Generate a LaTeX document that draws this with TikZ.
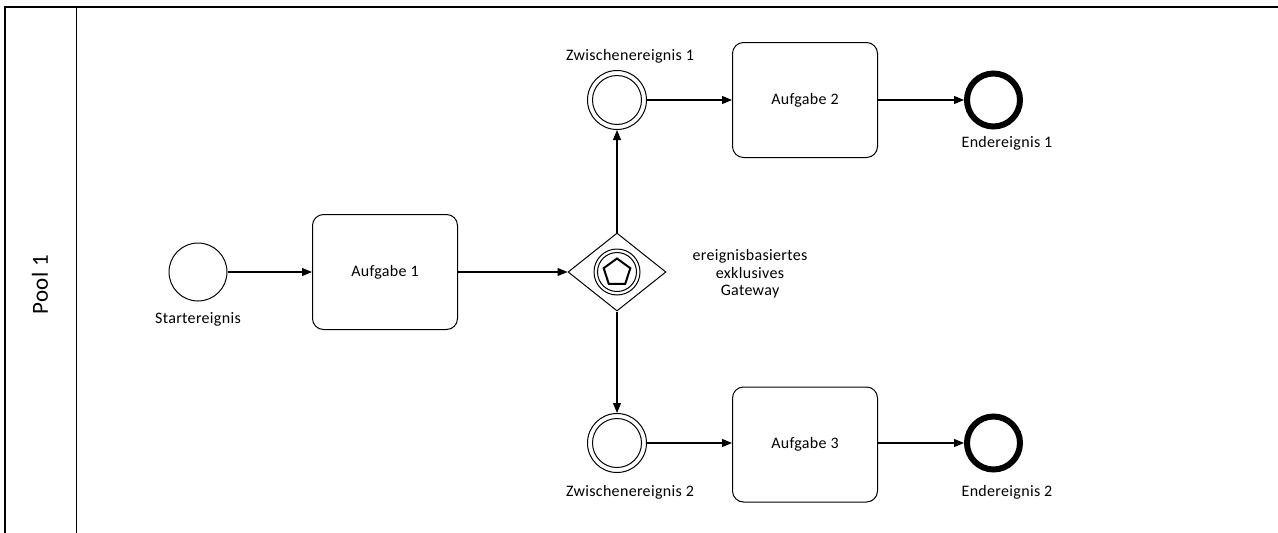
\documentclass[tikz,border=0pt]{standalone}
\usepackage{fontspec}
\setmainfont{Carlito}[LetterSpace=2]
\usetikzlibrary{shapes.geometric,arrows.meta}
\begin{document}
\begin{tikzpicture}[x=1pt,y=-1pt,
  every node/.style={font=\fontsize{16}{17.5}\selectfont},
  flow/.style={line width=1.1pt,-{Triangle[length=10pt,width=8pt]}},
  startev/.style={circle,draw,line width=1pt,minimum size=58pt,inner sep=0pt},
  midev/.style={circle,draw,line width=1pt,minimum size=59pt,inner sep=0pt},
  endev/.style={circle,draw,line width=6pt,minimum size=53pt,inner sep=0pt},
  task/.style={rectangle,draw,rounded corners=11pt,line width=1pt,minimum width=145pt,minimum height=115pt,inner sep=0pt},
  gate/.style={diamond,draw,line width=1pt,minimum width=98pt,minimum height=78pt,inner sep=0pt},
  caption/.style={inner sep=0pt,align=center}]
\useasboundingbox (0,0) rectangle (1278,533);
% pool with its header strip
\draw[line width=1.3pt] (5,533) -- (5,7) -- (1278,7);
\draw[line width=1pt] (76,7) -- (76,533);
\node[rotate=90,font=\fontsize{23}{26}\selectfont] (pool) at (40,285) {Pool 1};

% events and tasks
\node[startev] (s) at (198,272) {};
\node[caption] (sl) at (198,319) {Startereignis};
\node[task] (a1) at (385,272) {Aufgabe 1};
\node[gate] (g) at (617,272) {};
\draw[line width=1pt] (g.center) circle (23pt);
\draw[line width=1pt] (g.center) circle (19.5pt);
\node[regular polygon,regular polygon sides=5,draw,line width=2pt,minimum size=28pt,inner sep=0pt] (gp) at (617,272.5) {};
\node[caption] (gl) at (750,274) {ereignisbasiertes\\exklusives\\Gateway};

\node[midev] (z1) at (617,100) {};
\draw[line width=1pt] (z1.center) circle (24.5pt);
\node[caption] (z1l) at (630,56) {Zwischenereignis 1};
\node[task] (a2) at (805,100) {Aufgabe 2};
\node[endev] (e1) at (993.5,100) {};
\node[caption] (e1l) at (1007,143) {Endereignis 1};

\node[midev] (z2) at (617,443) {};
\draw[line width=1pt] (z2.center) circle (24.5pt);
\node[caption] (z2l) at (630,492) {Zwischenereignis 2};
\node[task] (a3) at (805,444.5) {Aufgabe 3};
\node[endev] (e2) at (993.5,443) {};
\node[caption] (e2l) at (1007,492) {Endereignis 2};

% sequence flows
\draw[flow] (s) -- (a1);
\draw[flow] (a1) -- (g);
\draw[flow] (g.north) -- (z1.south);
\draw[flow] (g.south) -- (z2.north);
\draw[flow] (z1) -- (z1 -| a2.west);
\draw[flow] (a2) -- (e1);
\draw[flow] (z2) -- (z2 -| a3.west);
\draw[flow] (a3.east |- e2) -- (e2);
\end{tikzpicture}
\end{document}
